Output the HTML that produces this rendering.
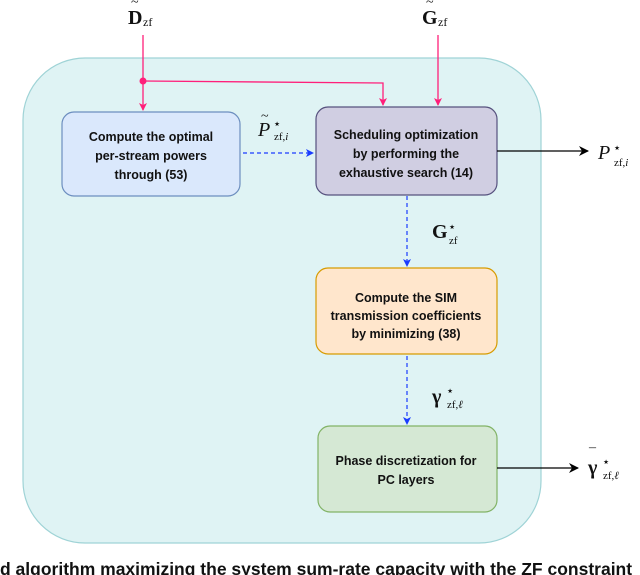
<!DOCTYPE html>
<html><head><style>
body{margin:0;width:640px;height:575px;overflow:hidden;background:#fff;font-family:"Liberation Sans",sans-serif}
svg{position:absolute;left:0;top:0}
.b{font-family:"Liberation Sans",sans-serif;font-weight:bold;font-size:12.5px;fill:#111;text-anchor:middle}
.m{font-family:"Liberation Serif",serif;fill:#111}
</style></head><body>
<svg width="640" height="575" viewBox="0 0 640 575">
<defs>
<marker id="r" markerWidth="8" markerHeight="8" refX="7" refY="4" orient="auto" markerUnits="userSpaceOnUse"><path d="M0,0 L8,4 L0,8 L2,4z" fill="#ff1f7a"/></marker>
<marker id="u" markerWidth="8" markerHeight="8" refX="7" refY="4" orient="auto" markerUnits="userSpaceOnUse"><path d="M0,0 L8,4 L0,8 L2,4z" fill="#1a3cff"/></marker>
<marker id="k" markerWidth="10" markerHeight="10" refX="9" refY="5" orient="auto" markerUnits="userSpaceOnUse"><path d="M0,0 L10,5 L0,10 L3,5z" fill="#000"/></marker>
</defs>
<rect x="23" y="58" width="518" height="485" rx="62" fill="#dff3f4" stroke="#9fd3d6" stroke-width="1.2"/>
<rect x="62" y="112" width="178" height="84" rx="12" fill="#dae8fc" stroke="#6c8ebf" stroke-width="1.2"/>
<rect x="316" y="107" width="181" height="88" rx="12" fill="#d0cee2" stroke="#56517e" stroke-width="1.2"/>
<rect x="316" y="268" width="181" height="86" rx="12" fill="#ffe6cc" stroke="#d79b00" stroke-width="1.2"/>
<rect x="318" y="426" width="179" height="86" rx="12" fill="#d5e8d4" stroke="#82b366" stroke-width="1.2"/>
<text class="b" x="151" y="141">Compute the optimal</text>
<text class="b" x="151" y="160">per-stream powers</text>
<text class="b" x="151" y="179">through (53)</text>
<text class="b" x="406" y="139">Scheduling optimization</text>
<text class="b" x="406" y="158">by performing the</text>
<text class="b" x="406" y="177">exhaustive search (14)</text>
<text class="b" x="406" y="302">Compute the SIM</text>
<text class="b" x="406" y="320">transmission coefficients</text>
<text class="b" x="406" y="338">by minimizing (38)</text>
<text class="b" x="406" y="465">Phase discretization for</text>
<text class="b" x="406" y="484">PC layers</text>
<line x1="143" y1="35" x2="143" y2="110" stroke="#ff1f7a" stroke-width="1.3" marker-end="url(#r)"/>
<polyline points="143,81 383,83 383,105" fill="none" stroke="#ff1f7a" stroke-width="1.3" marker-end="url(#r)"/>
<circle cx="143" cy="81" r="3.5" fill="#ff1f7a"/>
<line x1="438" y1="35" x2="438" y2="105" stroke="#ff1f7a" stroke-width="1.3" marker-end="url(#r)"/>
<line x1="243" y1="153" x2="313" y2="153" stroke="#1a3cff" stroke-width="1.2" stroke-dasharray="4,3" marker-end="url(#u)"/>
<line x1="407" y1="196" x2="407" y2="266" stroke="#1a3cff" stroke-width="1.2" stroke-dasharray="4,3" marker-end="url(#u)"/>
<line x1="407" y1="356" x2="407" y2="424" stroke="#1a3cff" stroke-width="1.2" stroke-dasharray="4,3" marker-end="url(#u)"/>
<line x1="497" y1="151" x2="588" y2="151" stroke="#000" stroke-width="1.3" marker-end="url(#k)"/>
<line x1="497" y1="468" x2="578" y2="468" stroke="#000" stroke-width="1.3" marker-end="url(#k)"/>
<text class="m" x="128" y="24" font-size="20" font-weight="bold">D</text><text class="m" x="143" y="26" font-size="12">zf</text><text class="m" x="131" y="6" font-size="14">~</text>
<text class="m" x="422" y="24" font-size="20" font-weight="bold">G</text><text class="m" x="438" y="26" font-size="12">zf</text><text class="m" x="426" y="6" font-size="14">~</text>
<text class="m" x="258" y="136" font-size="20" font-style="italic">P</text><text class="m" x="261" y="120" font-size="14">~</text><text class="m" x="273" y="128" font-size="13">⋆</text><text class="m" x="274" y="140" font-size="11">zf,<tspan font-style="italic">i</tspan></text>
<text class="m" x="598" y="159" font-size="20" font-style="italic">P</text><text class="m" x="613" y="152" font-size="13">⋆</text><text class="m" x="614" y="166" font-size="11">zf,<tspan font-style="italic">i</tspan></text>
<text class="m" x="432" y="238" font-size="20" font-weight="bold">G</text><text class="m" x="448" y="231" font-size="13">⋆</text><text class="m" x="449" y="244" font-size="11">zf</text>
<text class="m" x="432" y="403" font-size="20" font-weight="bold">γ</text><text class="m" x="446" y="395" font-size="13">⋆</text><text class="m" x="447" y="408" font-size="11">zf,<tspan font-style="italic">ℓ</tspan></text>
<text class="m" x="588" y="474" font-size="20" font-weight="bold">γ</text><text class="m" x="589" y="458" font-size="14">¯</text><text class="m" x="602" y="466" font-size="13">⋆</text><text class="m" x="603" y="479" font-size="11">zf,<tspan font-style="italic">ℓ</tspan></text>
<text x="0" y="575" font-family="Liberation Sans" font-weight="bold" font-size="17.5" fill="#111">d algorithm maximizing the system sum-rate capacity with the ZF constraint</text>
</svg>
</body></html>
